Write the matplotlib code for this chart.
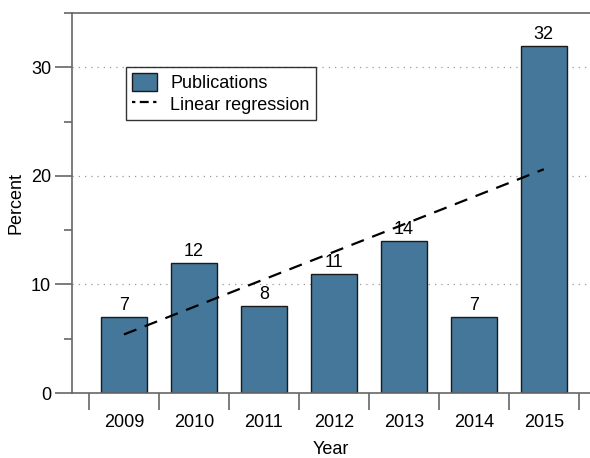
import matplotlib
matplotlib.use("Agg")
import matplotlib.pyplot as plt
import numpy as np
from matplotlib.lines import Line2D
from matplotlib.patches import Patch

plt.rcParams["font.family"] = ["Liberation Sans", "DejaVu Sans"]

YEARS = ["2009", "2010", "2011", "2012", "2013", "2014", "2015"]
PERCENT = [7, 12, 8, 11, 14, 7, 32]

BAR_COLOR = "#44779a"
SPINE_GREY = "#666666"
FS = 13

x = np.arange(len(YEARS))
y = np.array(PERCENT, dtype=float)
slope, intercept = np.polyfit(x, y, 1)

fig = plt.figure(figsize=(5.9, 4.58), dpi=100)
ax = fig.add_axes([72 / 590, 1 - 393 / 458, 518 / 590, 380 / 458])

# dotted reference lines behind the bars
for yy in (10, 20, 30):
    ax.axhline(yy, color="#999999", linestyle=(0, (1, 4)), lw=0.9, zorder=0)

ax.bar(x, y, width=0.65, color=BAR_COLOR, edgecolor="#1a1a1a", lw=1.0, zorder=2)
for xi, v in zip(x, PERCENT):
    ax.text(xi, v + 0.25, str(v), ha="center", va="bottom", fontsize=FS)

ax.plot(x, intercept + slope * x, color="black", lw=1.6, linestyle=(0, (6, 4)), zorder=3)

ax.set_xlim(-0.743, 6.66)
ax.set_ylim(0, 35)

ax.spines["right"].set_visible(False)
for s in ("left", "bottom", "top"):
    ax.spines[s].set_color(SPINE_GREY)
    ax.spines[s].set_linewidth(1.2)

ax.set_yticks([0, 10, 20, 30])
ax.set_yticks([5, 15, 25, 35], minor=True)
ax.tick_params(axis="y", which="major", length=12, width=1.2, color=SPINE_GREY, labelsize=FS, pad=3)
ax.tick_params(axis="y", which="minor", length=6, width=1.2, color=SPINE_GREY)

# ticks between bars, labels under bar centres
ax.set_xticks(np.arange(-0.5, len(YEARS), 1.0))
ax.set_xticklabels([])
ax.set_xticks(x, minor=True)
ax.set_xticklabels(YEARS, minor=True)
ax.tick_params(axis="x", which="major", length=12, width=1.2, color=SPINE_GREY)
ax.tick_params(axis="x", which="minor", length=0, labelsize=FS, pad=15)

ax.set_xlabel("Year", fontsize=FS, labelpad=7)
ax.set_ylabel("Percent", fontsize=FS, labelpad=5)

handles = [
    Patch(facecolor=BAR_COLOR, edgecolor="#1a1a1a", label="Publications"),
    Line2D([0], [0], color="black", lw=1.6, linestyle=(0, (1.5, 2, 4, 2)), label="Linear regression"),
]
leg = ax.legend(handles=handles, loc="upper left", bbox_to_anchor=(0.104, 0.858),
                fontsize=FS, frameon=True, fancybox=False, borderpad=0.35,
                handlelength=1.4, handleheight=1.1, handletextpad=0.7,
                labelspacing=0.15, borderaxespad=0)
leg.get_frame().set_edgecolor("black")
leg.get_frame().set_linewidth(1.0)

fig.savefig("out.png", dpi=100)
